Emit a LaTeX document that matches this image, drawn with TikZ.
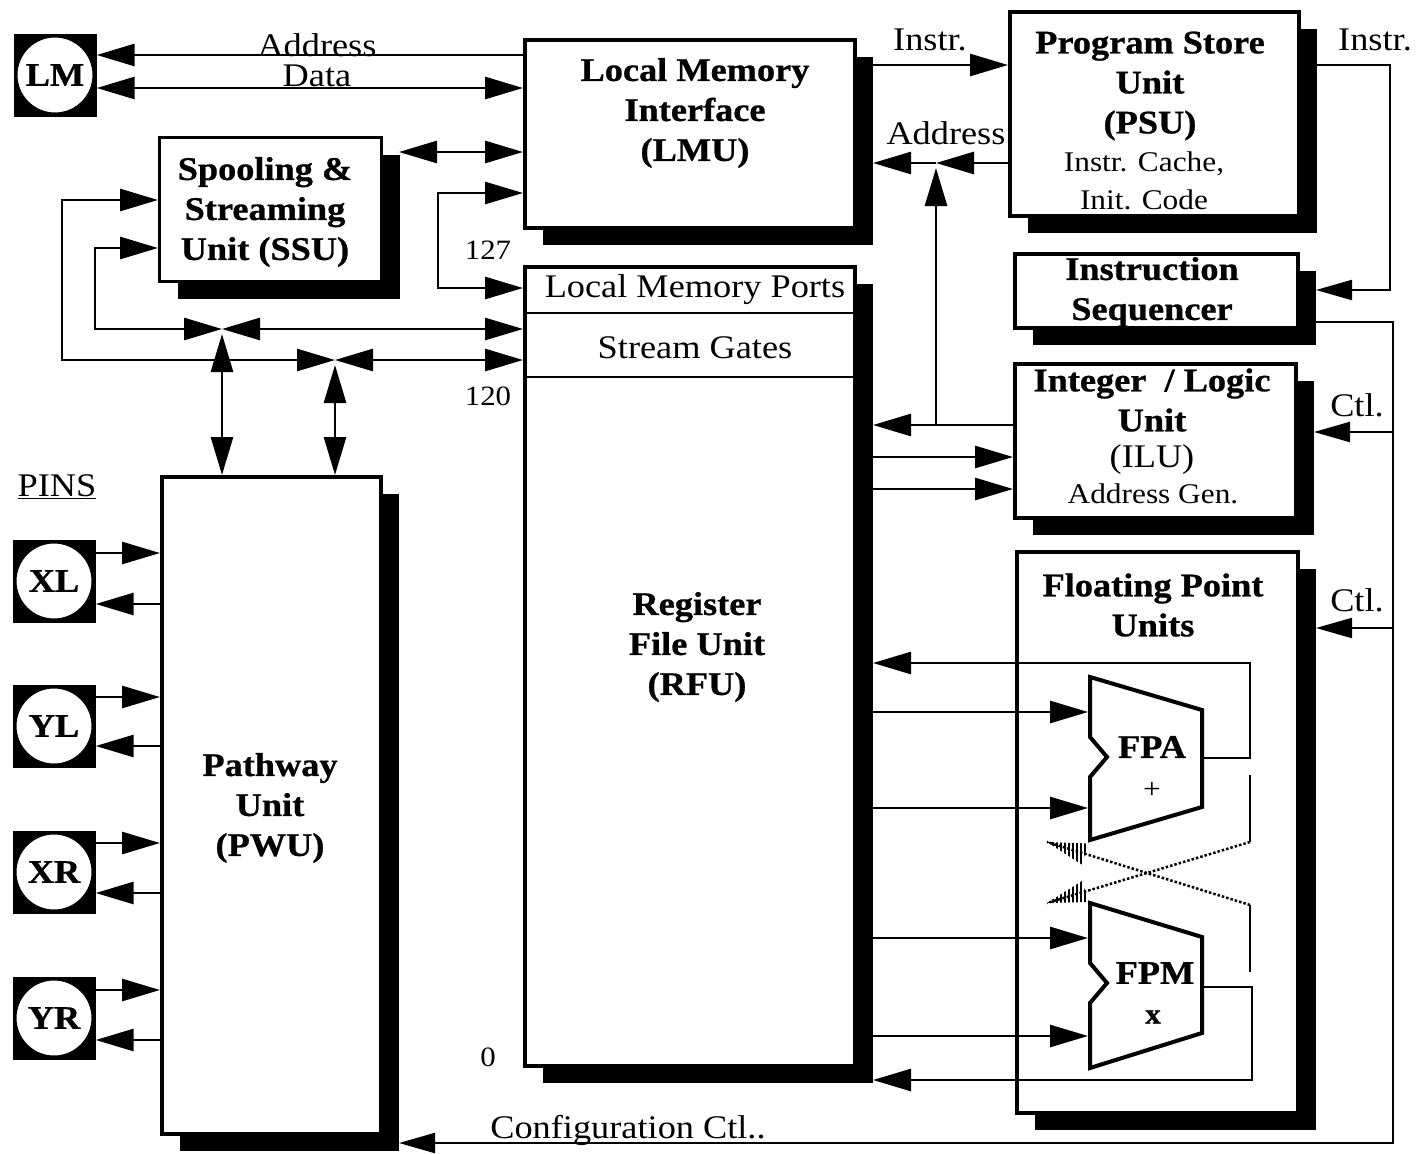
\documentclass[tikz,border=0pt]{standalone}
\usepackage{fontspec}
\setmainfont{Liberation Serif}[FakeStretch=1.1,BoldFeatures={FakeBold=0.8}]
\usetikzlibrary{arrows.meta,shadows,calc}
\begin{document}
\begin{tikzpicture}[x=1pt,y=-1pt,
  conn/.style={line width=2.8pt},
  arr/.style={conn,-{Triangle[length=38pt,width=22pt]}},
  dblarr/.style={conn,{Triangle[length=38pt,width=22pt]}-{Triangle[length=38pt,width=22pt]}},
  thinarr/.style={line width=2.2pt,-{Triangle[length=36pt,width=20pt]}},
  box/.style={draw,line width=4pt,fill=white,inner sep=0pt,
     drop shadow={shadow xshift=18pt,shadow yshift=-17pt,fill=black,opacity=1}},
  tb/.style={font=\fontsize{33}{40}\selectfont\bfseries,align=center,inner sep=0pt},
  tr/.style={font=\fontsize{33}{40}\selectfont,align=center,inner sep=0pt},
  ts/.style={font=\fontsize{28.5}{38}\selectfont,align=center,inner sep=0pt},
  tn/.style={font=\fontsize{28}{34}\selectfont,inner sep=0pt},
  pinsq/.style={fill=black,minimum size=83pt,inner sep=0pt},
  pincirc/.style={circle,fill=white,draw=black,line width=1pt,minimum size=76pt,inner sep=0pt,font=\fontsize{33}{40}\selectfont\bfseries},
  unitshape/.style={draw,line width=4pt,fill=white,line join=miter},
  dotline/.style={line width=2.5pt,dash pattern=on 2.5pt off 2pt},
]
\useasboundingbox (0,0) rectangle (1417,1154);
\fill[white] (0,0) rectangle (1417,1154);

% ---------- boxes ----------
\node[box,minimum width=330pt,minimum height=188pt] (lmu) at (690,134) {};
\node[box,minimum width=330pt,minimum height=799pt] (rfu) at (690,666.5) {};
\node[box,line width=3pt,minimum width=222pt,minimum height=144pt] (ssu) at (270.5,209.5) {};
\node[box,minimum width=219pt,minimum height=657pt] (pwu) at (271.5,805.5) {};
\node[box,minimum width=289pt,minimum height=204pt] (psu) at (1154.5,114) {};
\node[box,minimum width=283pt,minimum height=74pt] (seq) at (1156.5,291) {};
\node[box,minimum width=281pt,minimum height=154pt] (ilu) at (1155.5,441) {};
\node[box,minimum width=281pt,minimum height=561pt] (fpu) at (1157.5,832.5) {};

\foreach \n in {lmu,rfu,ssu,pwu,psu,seq,ilu,fpu} {\coordinate (\n-s) at ($(\n.east)+(16,0)$);}

\draw[line width=2.5pt] (rfu.west |- 0,313) -- (rfu.east |- 0,313);
\draw[line width=2.5pt] (rfu.west |- 0,377) -- (rfu.east |- 0,377);

% ---------- pins ----------
\node[pinsq] (lm) at (55,75) {};
\node[pincirc] (lmc) at (lm) {LM};
\node[pinsq] (xl) at (54,581) {};
\node[pincirc] (xlc) at (xl) {XL};
\node[pinsq] (yl) at (54,726) {};
\node[pincirc] (ylc) at (yl) {YL};
\node[pinsq] (xr) at (54,872) {};
\node[pincirc] (xrc) at (xr) {XR};
\node[pinsq] (yr) at (54,1018) {};
\node[pincirc] (yrc) at (yr) {YR};

% ---------- FP units ----------
\draw[unitshape] (1090,677) -- (1202,710) -- (1202,807) -- (1090,840) -- (1090,777) -- (1107,757) -- (1090,737) -- cycle;
\draw[unitshape] (1090,903) -- (1202,937) -- (1202,1033) -- (1090,1068) -- (1090,1003) -- (1107,983) -- (1090,963) -- cycle;
\coordinate (fpain1) at (1088,712);
\coordinate (fpain2) at (1088,808);
\coordinate (fpaout) at (1202,758);
\coordinate (fpmin1) at (1088,938);
\coordinate (fpmin2) at (1088,1036);
\coordinate (fpmout) at (1202,987);

% ---------- connectors ----------
% LM
\draw[arr] (lmu.west |- 0,55) -- (lm.east |- 0,55);
\draw[dblarr] (lm.east |- 0,88) -- (lmu.west |- 0,88);
% SSU - LMU
\draw[dblarr] (ssu-s |- 0,152) -- (lmu.west |- 0,152);
% 127 bracket
\draw[dblarr] (lmu.west |- 0,193) -- (438,193) -- (438,288) -- (rfu.west |- 0,288);
% junctions
\coordinate (jb) at (222,329);
\coordinate (ja) at (335,360);
\draw[dblarr] (jb) -- (95,329) -- (95,248) -- (ssu.west |- 0,248);
\draw[dblarr] (jb) -- (rfu.west |- jb);
\draw[dblarr] (222,334) -- (pwu.north -| jb);
\draw[dblarr] (ja) -- (62,360) -- (62,200) -- (ssu.west |- 0,200);
\draw[dblarr] (ja) -- (rfu.west |- ja);
\draw[dblarr] (335,365) -- (pwu.north -| ja);
% pins to PWU
\foreach \p/\a/\b in {xl/553/604, yl/697/746, xr/843/893, yr/990/1040} {
  \draw[arr] (\p.east |- 0,\a) -- (pwu.west |- 0,\a);
  \draw[arr] (pwu.west |- 0,\b) -- (\p.east |- 0,\b);
}
% LMU - PSU
\draw[arr] (lmu-s |- 0,65) -- (psu.west |- 0,65);
\coordinate (jc) at (936,163);
\coordinate (jd) at (936,425);
\draw[arr] (psu.west |- jc) -- (jc);
\draw[arr] (jc) -- (lmu-s |- jc);
\draw[arr] (jd) -- (936,168);
% ILU
\draw[arr] (ilu.west |- jd) -- (rfu-s |- jd);
\draw[arr] (rfu-s |- 0,457) -- (ilu.west |- 0,457);
\draw[arr] (rfu-s |- 0,489) -- (ilu.west |- 0,489);
% PSU - Sequencer
\draw[thinarr] (psu-s |- 0,65) -- (1390,65) -- (1390,290) -- (seq-s |- 0,290);
% control
\draw[thinarr] (seq-s |- 0,322) -- (1393,322) -- (1393,1143) -- (pwu-s |- 0,1143);
\draw[thinarr] (1393,432) -- (ilu-s |- 0,432);
\draw[thinarr] (1393,628) -- (fpu-s |- 0,628);
% FP
\draw[arr] (rfu-s |- fpain1) -- (fpain1);
\draw[arr] (rfu-s |- fpain2) -- (fpain2);
\draw[arr] (rfu-s |- fpmin1) -- (fpmin1);
\draw[arr] (rfu-s |- fpmin2) -- (fpmin2);
\draw[arr] (fpaout) -- (1250,758) -- (1250,663) -- (rfu-s |- 0,663);
\draw[arr] (fpmout) -- (1252,987) -- (1252,1080) -- (rfu-s |- 0,1080);
\draw[conn] (1250,775) -- (1250,842);
\draw[conn] (1250,905) -- (1250,972);
\draw[dotline] (1250,842) -- (1047,903);
\draw[dotline] (1250,905) -- (1047,842);
% hatched arrow heads
\begin{scope}
  \clip (1047,842) -- (1088.3,843.5) -- (1081.7,864.5) -- cycle;
  \foreach \x in {1049,1053,...,1089} {\draw[line width=2pt] (\x,830) -- (\x,875);}
\end{scope}
\begin{scope}
  \clip (1047,903) -- (1088.5,902) -- (1082,881) -- cycle;
  \foreach \x in {1049,1053,...,1089} {\draw[line width=2pt] (\x,870) -- (\x,915);}
\end{scope}

% ---------- texts ----------
\node[tb] (lmut) at (695,113) {Local Memory\\Interface\\(LMU)};
\node[tb] (ssut) at (265,212) {Spooling \&\\Streaming\\Unit (SSU)};
\node[tr] (lmpt) at (695,290) {Local Memory Ports};
\node[tr] (sgt) at (695,348) {Stream Gates};
\node[tb] (rfut) at (697,647) {Register\\File Unit\\(RFU)};
\node[tb] (pwut) at (270,808) {Pathway\\Unit\\(PWU)};
\node[tb] (psut) at (1150,86) {Program Store\\Unit\\(PSU)};
\node[ts] (psut2) at (1144,181) {Instr. Cache,\\Init. Code};
\node[tb] (seqt) at (1152,292) {Instruction\\Sequencer};
\node[tb] (ilut) at (1152,400) {Integer\ \ / Logic\\Unit};
\node[tr] (ilut2) at (1152,460) {(ILU)};
\node[ts] (ilut3) at (1153,494) {Address Gen.};
\node[tb] (fput) at (1153,605) {Floating Point\\Units};
\node[tb] (fpat) at (1152,747) {FPA};
\node[ts] (fpat2) at (1152,790) {+};
\node[tb] (fpmt) at (1155,973) {FPM};
\node[ts,font=\fontsize{28.5}{38}\selectfont\bfseries] (fpmt2) at (1153,1017) {x};

\node[tr] (laddr) at (317,45) {Address};
\node[tr] (ldata) at (317,76) {Data};
\node[tr] (linstr1) at (930,40) {Instr.};
\node[tr] (linstr2) at (1375,40) {Instr.};
\node[tr] (laddr2) at (946,133) {Address};
\node[tr] (lctl1) at (1357,405) {Ctl.};
\node[tr] (lctl2) at (1357,600) {Ctl.};
\node[tr] (lcfg) at (628,1130) {Configuration Ctl..};
\node[tn] (l127) at (488,250) {127};
\node[tn] (l120) at (488,396) {120};
\node[tn] (l0) at (488,1057) {0};
\node[tr] (lpins) at (57,487) {\underline{PINS}};
\end{tikzpicture}
\end{document}
